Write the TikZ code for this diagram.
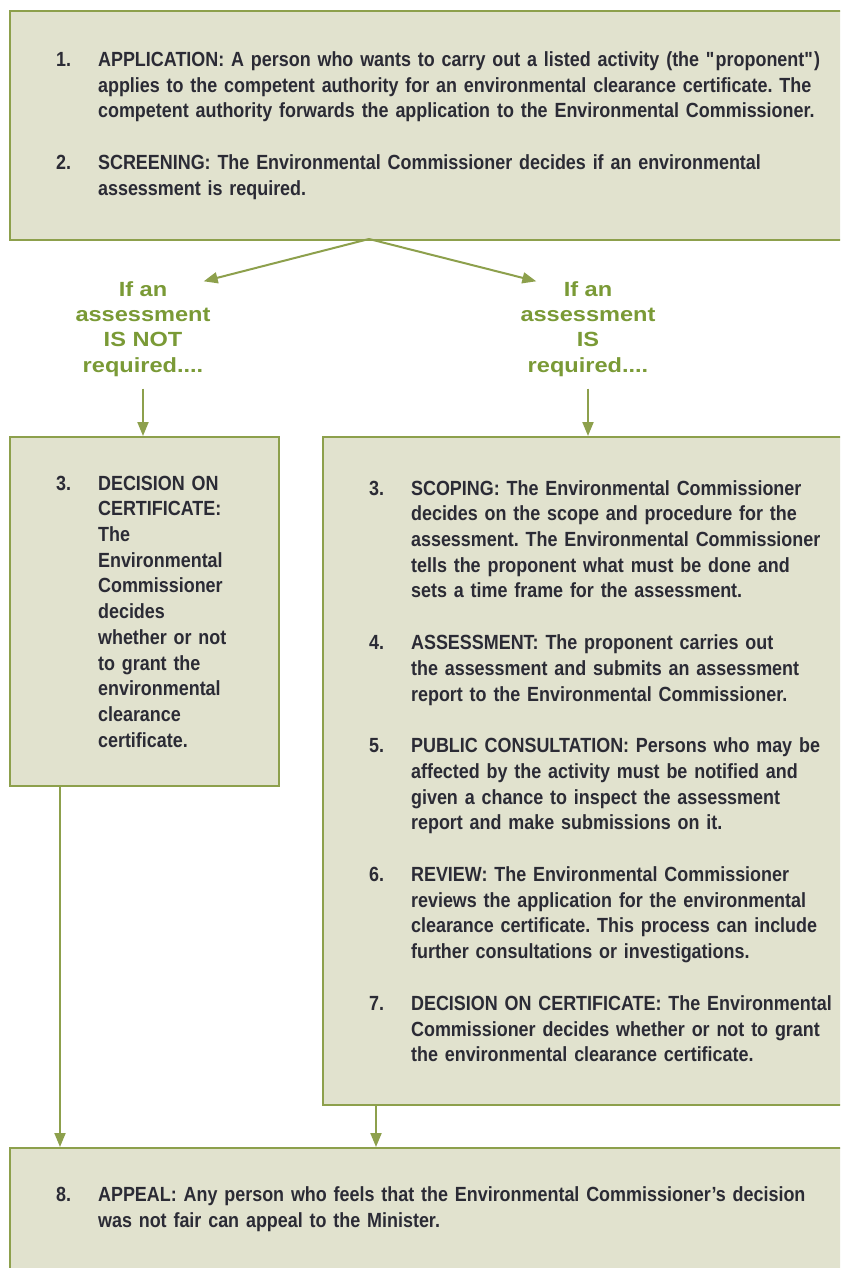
\documentclass[tikz,border=0pt]{standalone}
\usepackage{fontspec}
\setmainfont{Liberation Sans}[FakeStretch=0.875]
\newfontfamily\cuefont{Liberation Sans}[FakeStretch=1.15]
\usetikzlibrary{positioning,arrows.meta,calc}
\definecolor{boxFill}{HTML}{E1E2CE}
\definecolor{oliveLine}{HTML}{8DA04C}
\definecolor{cueGreen}{HTML}{7A9A36}
\definecolor{inkGray}{HTML}{2B2B35}

\newcommand{\stepitem}[2]{\leftskip=88pt\noindent\llap{\makebox[42pt][l]{#1}}#2\par}
\newcommand{\stepgap}{\vskip 26pt}

\begin{document}
\frenchspacing
\begin{tikzpicture}[x=1pt, y=-1pt, >={Triangle[length=14pt, width=11pt]},
          stepbox/.style={draw=oliveLine, line width=2.2pt, fill=boxFill, anchor=north west, inner sep=0pt, align=left, text=inkGray, font=\fontsize{20.5pt}{25.7pt}\selectfont\bfseries},
          cue/.style={inner sep=0pt, align=center, text=cueGreen, font=\cuefont\fontsize{20.5pt}{25.3pt}\selectfont\bfseries},
          flow/.style={->, draw=oliveLine, line width=2pt}]
        \fill[white] (0,0) rectangle (840,1268);
        \clip (0,0) rectangle (840,1268);
        \node[stepbox, text width=891pt, minimum height=229pt] (screen) at (9,10) {%
          \stepitem{1.}{APPLICATION: A person who wants to carry out a listed activity (the \textquotedbl proponent\textquotedbl)\\
            applies to the competent authority for an environmental clearance certificate. The\\
            competent authority forwards the application to the Environmental Commissioner.}
          \stepgap
          \stepitem{2.}{SCREENING: The Environmental Commissioner decides if an environmental\\
            assessment is required.}};
        \node[cue] (cueNo) at (143,329) {If an\\assessment\\IS NOT\\required....};
        \node[cue] (cueYes) at (588,329) {If an\\assessment\\IS\\required....};
        \node[stepbox, text width=269pt, minimum height=349pt] (noBox) at (9,436) {%
          \stepitem{3.}{DECISION ON\\CERTIFICATE:\\The\\Environmental\\Commissioner\\decides\\whether or not\\to grant the\\environmental\\clearance\\certificate.}};
        \node[stepbox, text width=578pt, minimum height=668pt] (yesBox) at (322,436) {%
          \stepitem{3.}{SCOPING: The Environmental Commissioner\\
            decides on the scope and procedure for the\\
            assessment. The Environmental Commissioner\\
            tells the proponent what must be done and\\
            sets a time frame for the assessment.}
          \stepgap
          \stepitem{4.}{ASSESSMENT: The proponent carries out\\
            the assessment and submits an assessment\\
            report to the Environmental Commissioner.}
          \stepgap
          \stepitem{5.}{PUBLIC CONSULTATION: Persons who may be\\
            affected by the activity must be notified and\\
            given a chance to inspect the assessment\\
            report and make submissions on it.}
          \stepgap
          \stepitem{6.}{REVIEW: The Environmental Commissioner\\
            reviews the application for the environmental\\
            clearance certificate. This process can include\\
            further consultations or investigations.}
          \stepgap
          \stepitem{7.}{DECISION ON CERTIFICATE: The Environmental\\
            Commissioner decides whether or not to grant\\
            the environmental clearance certificate.}};
        \node[stepbox, text width=891pt, minimum height=122pt] (appeal) at (9,1147) {%
          \stepitem{8.}{APPEAL: Any person who feels that the Environmental Commissioner's decision\\
            was not fair can appeal to the Minister.}};
        % screening splits into the two routes
        \coordinate (fork) at (369,239);
        \draw[flow] (fork) -- ($(cueNo.north east)+(-7,0)$);
        \draw[flow] (fork) -- ($(cueYes.north west)+(16,0)$);
        \draw[flow] ([yshift=-12pt]cueNo.south) -- (cueNo.south |- noBox.north);
        \draw[flow] ([yshift=-12pt]cueYes.south) -- (cueYes.south |- yesBox.north);
        % both decisions lead to the appeal
        \draw[flow] ([xshift=51pt]noBox.south west) -- ([xshift=51pt]noBox.south west |- appeal.north);
        \draw[flow] ([xshift=54pt]yesBox.south west) -- ([xshift=54pt]yesBox.south west |- appeal.north);
      \end{tikzpicture}
\end{document}
